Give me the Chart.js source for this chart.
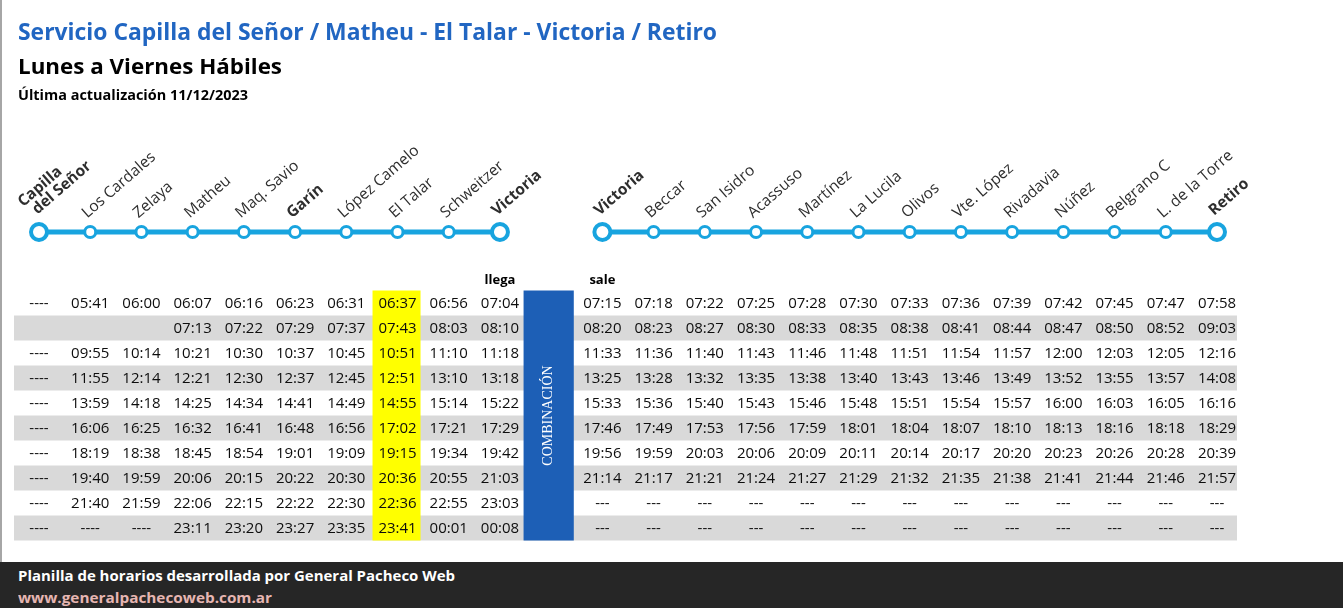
<!DOCTYPE html>
<html lang="es">
<head>
<meta charset="utf-8">
<title>Servicio Capilla del Señor / Matheu - El Talar - Victoria / Retiro</title>
<script src="https://cdn.jsdelivr.net/npm/chart.js@4.4.1/dist/chart.umd.min.js"></script>
<style>
  html, body { margin: 0; padding: 0; background: #fff; }
  body { width: 1343px; height: 608px; position: relative; overflow: hidden; font-family: 'Open Sans', sans-serif; }
  #chart { position: absolute; left: 0; top: 0; }
  .txt { position: absolute; left: 18px; white-space: nowrap; font-weight: 700; line-height: 1; transform-origin: 0 0; }
  #title { top: 19.5px; font-size: 23px; color: #2166c2; }
  #sub { top: 56px; font-size: 21px; color: #000; }
  #upd { top: 89px; font-size: 13.5px; color: #000; }
  #leftEdge { position: absolute; left: 0; top: 0; width: 2px; height: 562px; background: #a6a6a6; }
  #footer { position: absolute; left: 0; top: 562px; width: 1343px; height: 46px; background: #262626; }
  #foot1 { top: 568px; font-size: 15px; color: #fff; }
  #foot2 { top: 590px; font-size: 15px; color: #e6b6b2; }
</style>
</head>
<body>
<div id="leftEdge"></div>
<canvas id="chart" width="1343" height="608"></canvas>
<div class="txt" id="title">Servicio Capilla del Señor / Matheu - El Talar - Victoria / Retiro</div>
<div class="txt" id="sub">Lunes a Viernes Hábiles</div>
<div class="txt" id="upd">Última actualización 11/12/2023</div>
<div id="footer"></div>
<div class="txt" id="foot1">Planilla de horarios desarrollada por General Pacheco Web</div>
<div class="txt" id="foot2">www.generalpachecoweb.com.ar</div>

<script>
// stations of each branch, in table order
const leftStations = ['Capilla del Señor', 'Los Cardales', 'Zelaya', 'Matheu', 'Maq. Savio', 'Garín',
    'López Camelo', 'El Talar', 'Schweitzer', 'Victoria'];
const rightStations = ['Victoria', 'Beccar', 'San Isidro', 'Acassuso', 'Martínez', 'La Lucila', 'Olivos',
    'Vte. López', 'Rivadavia', 'Núñez', 'Belgrano C', 'L. de la Torre', 'Retiro'];
const boldStations = ['Capilla del Señor', 'Garín', 'Victoria', 'Retiro'];
const highlightStation = 'El Talar';
const combinationLabel = 'COMBINACIÓN';
const arriveLabel = 'llega';
const departLabel = 'sale';

// Capilla del Señor -> (Matheu) -> Victoria
const leftTimes = [
    ['----', '05:41', '06:00', '06:07', '06:16', '06:23', '06:31', '06:37', '06:56', '07:04'],
    ['', '', '', '07:13', '07:22', '07:29', '07:37', '07:43', '08:03', '08:10'],
    ['----', '09:55', '10:14', '10:21', '10:30', '10:37', '10:45', '10:51', '11:10', '11:18'],
    ['----', '11:55', '12:14', '12:21', '12:30', '12:37', '12:45', '12:51', '13:10', '13:18'],
    ['----', '13:59', '14:18', '14:25', '14:34', '14:41', '14:49', '14:55', '15:14', '15:22'],
    ['----', '16:06', '16:25', '16:32', '16:41', '16:48', '16:56', '17:02', '17:21', '17:29'],
    ['----', '18:19', '18:38', '18:45', '18:54', '19:01', '19:09', '19:15', '19:34', '19:42'],
    ['----', '19:40', '19:59', '20:06', '20:15', '20:22', '20:30', '20:36', '20:55', '21:03'],
    ['----', '21:40', '21:59', '22:06', '22:15', '22:22', '22:30', '22:36', '22:55', '23:03'],
    ['----', '----', '----', '23:11', '23:20', '23:27', '23:35', '23:41', '00:01', '00:08']
];

// Victoria -> Retiro
const rightTimes = [
    ['07:15', '07:18', '07:22', '07:25', '07:28', '07:30', '07:33', '07:36', '07:39', '07:42', '07:45', '07:47', '07:58'],
    ['08:20', '08:23', '08:27', '08:30', '08:33', '08:35', '08:38', '08:41', '08:44', '08:47', '08:50', '08:52', '09:03'],
    ['11:33', '11:36', '11:40', '11:43', '11:46', '11:48', '11:51', '11:54', '11:57', '12:00', '12:03', '12:05', '12:16'],
    ['13:25', '13:28', '13:32', '13:35', '13:38', '13:40', '13:43', '13:46', '13:49', '13:52', '13:55', '13:57', '14:08'],
    ['15:33', '15:36', '15:40', '15:43', '15:46', '15:48', '15:51', '15:54', '15:57', '16:00', '16:03', '16:05', '16:16'],
    ['17:46', '17:49', '17:53', '17:56', '17:59', '18:01', '18:04', '18:07', '18:10', '18:13', '18:16', '18:18', '18:29'],
    ['19:56', '19:59', '20:03', '20:06', '20:09', '20:11', '20:14', '20:17', '20:20', '20:23', '20:26', '20:28', '20:39'],
    ['21:14', '21:17', '21:21', '21:24', '21:27', '21:29', '21:32', '21:35', '21:38', '21:41', '21:44', '21:46', '21:57'],
    ['---', '---', '---', '---', '---', '---', '---', '---', '---', '---', '---', '---', '---'],
    ['---', '---', '---', '---', '---', '---', '---', '---', '---', '---', '---', '---', '---']
];

const columns = [...leftStations, combinationLabel, ...rightStations];
const comboIndex = leftStations.length;
const rowCount = leftTimes.length;

const LINE_COLOR = '#18a4df';
const ROUTE_LEVEL = -2.84;   // y value of the station diagram, above row 0
const LABEL_ANGLE = -41 * Math.PI / 180;

function isTerminal(i) {
    return i === 0 || i === comboIndex - 1 || i === comboIndex + 1 || i === columns.length - 1;
}

const timetablePlugin = {
    id: 'timetable',
    beforeDatasetsDraw(chart) {
        const ctx = chart.ctx;
        const x = chart.scales.x;
        const y = chart.scales.y;
        const step = x.getPixelForValue(1) - x.getPixelForValue(0);
        const top = y.getPixelForValue(-0.5);
        const bottom = y.getPixelForValue(rowCount - 0.5);
        ctx.save();

        // zebra rows
        ctx.fillStyle = '#d9d9d9';
        const stripeLeft = x.getPixelForValue(0) - 25;
        const stripeRight = x.getPixelForValue(columns.length - 1) + 20;
        for (let r = 1; r < rowCount; r += 2) {
            const t = y.getPixelForValue(r - 0.5);
            const b = y.getPixelForValue(r + 0.5);
            ctx.fillRect(stripeLeft, t, stripeRight - stripeLeft, b - t);
        }

        // El Talar column
        const hx = x.getPixelForValue(leftStations.indexOf(highlightStation));
        ctx.fillStyle = '#ffff00';
        ctx.fillRect(hx - 25, top, 48, bottom - top);

        // combination box
        const cx = x.getPixelForValue(comboIndex);
        ctx.fillStyle = '#1d5fb6';
        ctx.fillRect(cx - step / 2 - 2, top, step - 1, bottom - top);
        ctx.restore();
    },
    afterDatasetsDraw(chart) {
        const ctx = chart.ctx;
        const x = chart.scales.x;
        const y = chart.scales.y;
        ctx.save();

        // station names, rotated over each point
        ctx.fillStyle = '#2e2e2e';
        ctx.textAlign = 'left';
        ctx.textBaseline = 'alphabetic';
        [0, 1].forEach(d => {
            const meta = chart.getDatasetMeta(d);
            meta.data.forEach((pt, i) => {
                if (pt.skip) return;
                const name = columns[i];
                const bold = boldStations.includes(name);
                const r = isTerminal(i) ? 8 : 5.5;
                ctx.save();
                ctx.translate(pt.x - 3, pt.y - 8 - r);
                ctx.rotate(LABEL_ANGLE);
                ctx.font = (bold ? '700 ' : '400 ') + '15.5px "Open Sans"';
                const lines = name === 'Capilla del Señor' ? ['Capilla', 'del Señor'] : [name];
                if (lines.length === 2) {
                    ctx.fillText(lines[0], -4, -15);
                    ctx.fillText(lines[1], 2, 0);
                } else {
                    ctx.fillText(name, 0, 0);
                }
                ctx.restore();
            });
        });

        // llega / sale headers
        ctx.fillStyle = '#000';
        ctx.textAlign = 'center';
        ctx.textBaseline = 'middle';
        ctx.font = '700 13px "Open Sans"';
        ctx.fillText(arriveLabel, x.getPixelForValue(comboIndex - 1), y.getPixelForValue(-1) + 2);
        ctx.fillText(departLabel, x.getPixelForValue(comboIndex + 1), y.getPixelForValue(-1) + 2);

        // times
        ctx.font = '400 15px "Open Sans"';
        ctx.fillStyle = '#0d0d0d';
        for (let r = 0; r < rowCount; r++) {
            const py = y.getPixelForValue(r) + 1;
            leftTimes[r].forEach((t, c) => {
                if (t) ctx.fillText(t, x.getPixelForValue(c), py);
            });
            rightTimes[r].forEach((t, c) => {
                if (t) ctx.fillText(t, x.getPixelForValue(comboIndex + 1 + c), py);
            });
        }

        // vertical COMBINACIÓN
        const cx = x.getPixelForValue(comboIndex) - 2.5;
        const cy = (y.getPixelForValue(-0.5) + y.getPixelForValue(rowCount - 0.5)) / 2;
        ctx.translate(cx, cy);
        ctx.rotate(-Math.PI / 2);
        ctx.fillStyle = '#fff';
        ctx.font = '400 14px "Liberation Serif"';
        ctx.fillText(combinationLabel, 0, 0);
        ctx.restore();
    }
};

function routeData(from, to) {
    return columns.map((c, i) => (i >= from && i <= to ? ROUTE_LEVEL : null));
}

function routeDataset(label, from, to) {
    return {
        label: label,
        data: routeData(from, to),
        borderColor: LINE_COLOR,
        borderWidth: 5,
        pointBackgroundColor: '#fff',
        pointBorderColor: LINE_COLOR,
        pointRadius: ctx => (isTerminal(ctx.dataIndex) ? 8 : 5.5),
        pointBorderWidth: ctx => (isTerminal(ctx.dataIndex) ? 4 : 3),
        tension: 0,
        spanGaps: false,
        clip: false
    };
}

new Chart(document.getElementById('chart'), {
    type: 'line',
    data: {
        labels: columns,
        datasets: [
            routeDataset('Capilla del Señor - Victoria', 0, comboIndex - 1),
            routeDataset('Victoria - Retiro', comboIndex + 1, columns.length - 1)
        ]
    },
    options: {
        responsive: false,
        animation: false,
        layout: { padding: { left: 39, right: 126, top: 215.5, bottom: 67.5 } },
        scales: {
            x: { display: false, offset: false },
            y: { display: false, reverse: true, min: -3.5, max: 9.5 }
        },
        plugins: {
            legend: { display: false },
            tooltip: { enabled: false }
        }
    },
    plugins: [timetablePlugin]
});

// squeeze the html headings to the widths of the original sheet
const textWidths = { title: 699, sub: 264, upd: 230, foot1: 437, foot2: 254 };
Object.keys(textWidths).forEach(id => {
    const el = document.getElementById(id);
    const w = el.getBoundingClientRect().width;
    el.style.transform = 'scaleX(' + (textWidths[id] / w) + ')';
});
</script>
</body>
</html>
